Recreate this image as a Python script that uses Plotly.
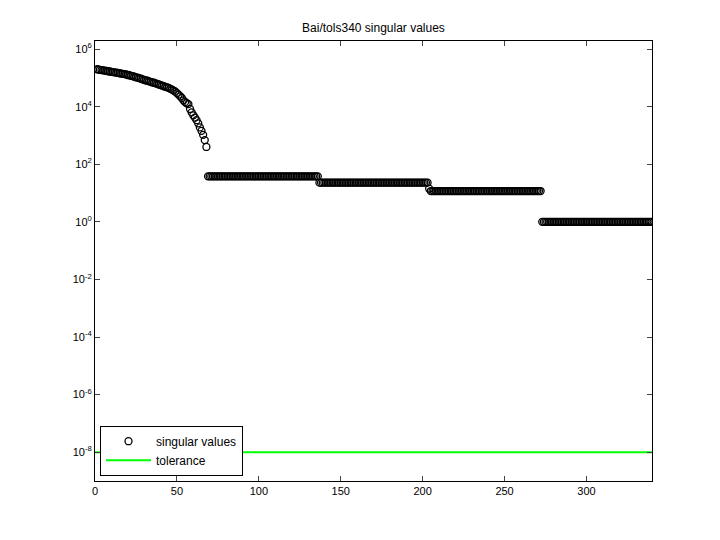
import numpy as np
import plotly.graph_objects as go

# log10 of the leading singular values
head_log = [
    5.30, 5.29, 5.28, 5.27, 5.26, 5.25, 5.24, 5.23, 5.22, 5.21,
    5.20, 5.19, 5.18, 5.17, 5.16, 5.15, 5.14, 5.13, 5.12, 5.10,
    5.09, 5.07, 5.06, 5.04, 5.02, 5.01, 4.99, 4.97, 4.95, 4.93,
    4.91, 4.90, 4.88, 4.86, 4.84, 4.83, 4.81, 4.79, 4.77, 4.75,
    4.73, 4.71, 4.69, 4.67, 4.65, 4.62, 4.59, 4.56, 4.52, 4.47,
    4.42, 4.36, 4.30, 4.22, 4.16, 4.12, 4.09, 3.92, 3.80, 3.70,
    3.62, 3.53, 3.42, 3.28, 3.16, 3.02, 2.84, 2.60,
]
plateau_log = [1.58] * 68 + [1.36] * 67 + [1.15] + [1.07] * 68 + [0.0] * 68
sv = 10 ** np.array(head_log + plateau_log)
idx = np.arange(1, len(sv) + 1)
tolerance = 1e-8

tick_exp = [6, 4, 2, 0, -2, -4, -6, -8]

fig = go.Figure()
fig.add_trace(go.Scatter(
    x=idx, y=sv, mode="markers", name="singular values",
    marker=dict(symbol="circle-open", size=7, color="black", line=dict(width=1.3)),
))
fig.add_trace(go.Scatter(
    x=[0, 340], y=[tolerance, tolerance], mode="lines", name="tolerance",
    line=dict(color="#00ff00", width=2),
))

# page body adds an 8px margin, so shift everything up/left by 8px
fig.update_layout(
    width=720, height=540,
    paper_bgcolor="white", plot_bgcolor="white",
    font=dict(family="Liberation Sans, Arial", size=11, color="black"),
    title=dict(text="Bai/tols340 singular values", x=0.5, xref="paper",
               y=0.963, yref="container", xanchor="center", yanchor="middle",
               font=dict(size=12)),
    margin=dict(l=87, r=76, t=33, b=67, autoexpand=False),
    showlegend=True,
    legend=dict(x=0.009, y=0.012, xanchor="left", yanchor="bottom",
                bordercolor="black", borderwidth=1, bgcolor="white",
                font=dict(size=12), itemwidth=45),
)
fig.update_xaxes(range=[0, 340], tickvals=[0, 50, 100, 150, 200, 250, 300],
                 ticks="inside", ticklen=5, showline=True, linecolor="black",
                 mirror="ticks", showgrid=False, zeroline=False, automargin=False)
fig.update_yaxes(type="log", range=[-9, 6.28],
                 tickvals=[10.0 ** e for e in tick_exp],
                 ticktext=["10<sup>%d</sup>" % e for e in tick_exp],
                 ticks="inside", ticklen=5, showline=True, linecolor="black",
                 mirror="ticks", showgrid=False, zeroline=False, automargin=False)

fig.write_html("out.html")
